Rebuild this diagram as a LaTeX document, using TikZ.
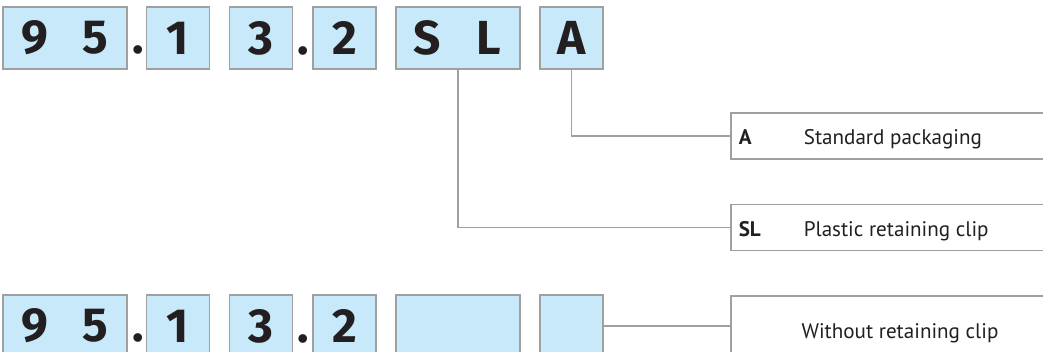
\documentclass[tikz,border=0pt]{standalone}
\usepackage{fontspec}
\setmainfont{PT Sans}
\newfontfamily\codefont{Fira Sans}
\usetikzlibrary{positioning, fit}
\definecolor{cellblue}{HTML}{C7E9F9}
\definecolor{framegrey}{HTML}{A0A0A0}
\definecolor{inkgrey}{HTML}{231F20}
\tikzset{
  every picture/.style={line width=1.1pt},
  cell/.style={fill=cellblue, minimum width=1.525cm, minimum height=1.5cm, inner sep=0pt, text=inkgrey,
    font=\codefont\fontsize{34}{36}\selectfont\bfseries},
  frame/.style={draw=framegrey, inner sep=0pt},
  sep/.style={font=\codefont\fontsize{34}{36}\selectfont\bfseries, text=inkgrey, inner sep=0pt, anchor=base},
  desc/.style={draw=framegrey, fill=white, minimum width=9cm, anchor=west, inner sep=0pt},
  key/.style={font=\fontsize{15}{18}\selectfont\bfseries, text=inkgrey, anchor=base west, inner sep=0pt},
  label/.style={font=\fontsize{15}{18}\selectfont, text=inkgrey, anchor=base west, inner sep=0pt},
  link/.style={draw=framegrey},
}
\begin{document}
\begin{tikzpicture}[x=0.025cm, y=-0.025cm]
  \clip (0,0) rectangle (1043,351);
  % upper code: 95.13.2 SL A
  \node[cell] (t9) at (34.5,38) {9};
  \node[cell] (t5) at (95.5,38) {5};
  \node[cell] (t1) at (178,38) {1};
  \node[cell] (t3) at (261,38) {3};
  \node[cell] (t2) at (344.5,38) {2};
  \node[cell] (tS) at (427.5,38) {S};
  \node[cell] (tL) at (488.5,38) {L};
  \node[cell] (tA) at (571.5,38) {A};
  \node[sep] (tp1) at ([xshift=0.275cm]t5.base east) {.};
  \node[sep] (tp2) at ([xshift=0.275cm]t3.base east) {.};
  \node[frame, fit=(t9)(t5)] (t95) {};
  \foreach \c in {t1,t3,t2,tA} \node[frame, fit=(\c)] {};
  \node[frame, fit=(tS)(tL)] (tSL) {};

  % lower code, no clip
  \node[cell] (b9) at (34.5,326) {9};
  \node[cell] (b5) at (95.5,326) {5};
  \node[cell] (b1) at (178,326) {1};
  \node[cell] (b3) at (261,326) {3};
  \node[cell] (b2) at (344.5,326) {2};
  \node[cell] (bS) at (427.5,326) {};
  \node[cell] (bL) at (488.5,326) {};
  \node[cell] (bA) at (571.5,326) {};
  \node[sep] (bp1) at ([xshift=0.275cm]b5.base east) {.};
  \node[sep] (bp2) at ([xshift=0.275cm]b3.base east) {.};
  \node[frame, fit=(b9)(b5)] (b95) {};
  \foreach \c in {b1,b3,b2,bA} \node[frame, fit=(\c)] {};
  \node[frame, fit=(bS)(bL)] (bSL) {};

  % option boxes
  \node[desc, minimum height=1.15cm] (dA) at (730,136) {};
  \node[key] (kA) at ([xshift=0.2cm, yshift=-0.22cm]dA.west) {A};
  \node[label] (lA) at ([xshift=1.825cm, yshift=-0.22cm]dA.west) {Standard packaging};
  \node[desc, minimum height=1.15cm] (dSL) at (730,227.5) {};
  \node[key] (kSL) at ([xshift=0.2cm, yshift=-0.22cm]dSL.west) {SL};
  \node[label] (lSL) at ([xshift=1.825cm, yshift=-0.22cm]dSL.west) {Plastic retaining clip};
  \node[desc, minimum height=1.6cm] (dW) at (730,328) {};
  \node[font=\fontsize{15}{18}\selectfont, text=inkgrey] (lW) at (900,333) {Without retaining clip};

  \draw[link] (tA.south) |- (dA.west);
  \draw[link] (tSL.south) |- (dSL.west);
  \draw[link] (bA.east) -- (bA.east -| dW.west);
\end{tikzpicture}
\end{document}
